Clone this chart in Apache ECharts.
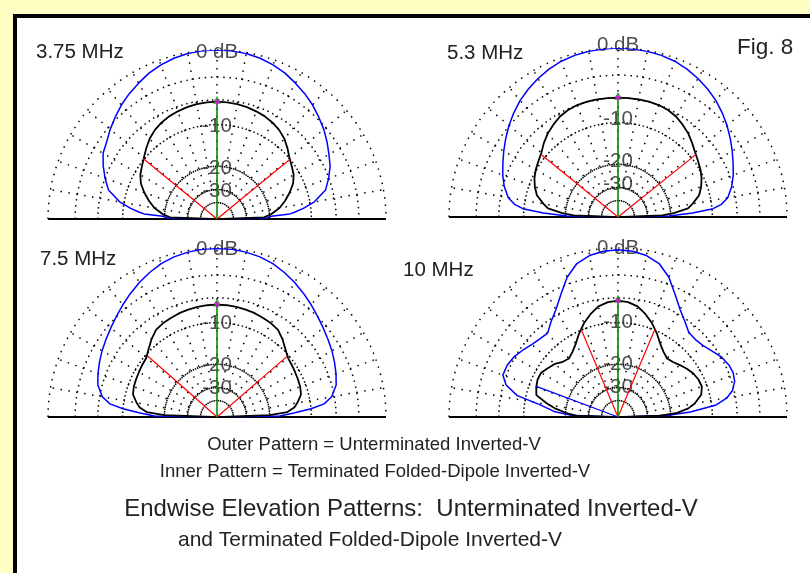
<!DOCTYPE html>
<html><head><meta charset="utf-8">
<script src="https://cdn.jsdelivr.net/npm/echarts@6/dist/echarts.min.js"></script>
<style>html,body{margin:0;padding:0;background:#ffffc4}#c{width:810px;height:573px}</style>
</head><body><div id="c"></div>
<script>
// ---------------- data (elevation angle in degrees, gain in dB) ----------------
const plotTitles = ['3.75 MHz', '5.3 MHz', '7.5 MHz', '10 MHz'];
const ringDb = [0, -3, -6, -10, -20, -30, -40];
const ringLabelDb = [0, -10, -20, -30];
const ringLabels = ['0 dB', '-10', '-20', '-30'];
const spokeAngles = [0,10,20,30,40,50,60,70,80,90,100,110,120,130,140,150,160,170,180];

const p1Outer = [[0,-60],[1,-21.2],[3,-19.5],[4,-14.4],[5,-13.3],[7,-11.4],[10,-9.2],[15,-7.0],[20,-6.05],[25,-5.2],[30,-4.6],[35,-3.94],[40,-3.3],[45,-2.75],[50,-2.19],[55,-1.71],[60,-1.28],[65,-0.84],[70,-0.52],[75,-0.26],[80,-0.09],[85,0],[90,0],[95,0],[100,-0.09],[105,-0.26],[110,-0.52],[115,-0.84],[120,-1.28],[125,-1.71],[130,-2.19],[135,-2.75],[140,-3.3],[145,-3.9],[150,-4.3],[155,-5.1],[160,-6.0],[165,-7.0],[170,-9.2],[173,-11.4],[175,-13.3],[176,-14.4],[177,-19.5],[179,-21.2],[180,-60]];
const p1Inner = [[0,-60],[2,-22],[5,-19.5],[10,-16.8],[15,-15.0],[20,-13.4],[25,-12.0],[30,-11.1],[35,-10.55],[40,-9.95],[45,-9.05],[50,-8.2],[55,-7.6],[60,-7.18],[65,-6.87],[70,-6.67],[75,-6.49],[80,-6.37],[85,-6.29],[90,-6.27],[95,-6.29],[100,-6.37],[105,-6.49],[110,-6.67],[115,-6.87],[120,-7.18],[125,-7.6],[130,-8.2],[135,-9.0],[140,-9.8],[145,-10.5],[150,-11.1],[155,-12.0],[160,-13.4],[165,-15.0],[170,-16.8],[175,-19.5],[178,-22],[180,-60]];
const p1Beam = [[39.3,-10.0],[140.7,-9.8]];

const p2Outer = [[0,-60],[1,-20.5],[3,-14.0],[5,-9.8],[7,-8.3],[10,-7.15],[15,-6.2],[20,-5.5],[25,-4.9],[30,-4.25],[35,-3.6],[40,-2.95],[45,-2.35],[50,-1.8],[55,-1.35],[60,-0.95],[65,-0.6],[70,-0.33],[75,-0.17],[80,-0.08],[85,-0.03],[90,0],[95,-0.03],[100,-0.08],[105,-0.17],[110,-0.33],[115,-0.6],[120,-0.95],[125,-1.35],[130,-1.8],[135,-2.35],[140,-2.95],[145,-3.6],[150,-4.25],[155,-4.9],[160,-5.5],[165,-6.2],[170,-7.15],[173,-8.3],[175,-9.8],[177,-14.0],[179,-20.5],[180,-60]];
const p2Inner = [[0,-60],[2,-23],[4,-19],[7,-15.0],[10,-13.8],[15,-12.0],[20,-11.1],[25,-10.4],[30,-9.85],[35,-9.4],[40,-8.9],[45,-8.2],[50,-7.5],[55,-6.95],[60,-6.45],[65,-6.15],[70,-6.0],[75,-5.97],[80,-5.97],[85,-5.97],[90,-5.97],[95,-5.97],[100,-5.97],[105,-5.97],[110,-6.0],[115,-6.15],[120,-6.45],[125,-6.95],[130,-7.5],[135,-8.2],[140,-9.0],[145,-9.5],[150,-9.9],[155,-10.4],[160,-11.1],[165,-12.0],[170,-13.8],[173,-15.0],[176,-19],[178,-23],[180,-60]];
const p2Beam = [[38.7,-9.05],[140.9,-9.3]];

const p3Outer = [[0,-60],[1,-17],[3,-13.5],[5,-10.0],[7,-7.7],[10,-6.4],[15,-5.4],[20,-4.95],[25,-4.55],[30,-4.15],[35,-3.8],[40,-3.4],[45,-2.95],[50,-2.45],[55,-1.95],[60,-1.45],[65,-1.0],[70,-0.6],[75,-0.33],[80,-0.16],[85,-0.07],[90,-0.05],[95,-0.07],[100,-0.16],[105,-0.33],[110,-0.6],[115,-1.0],[120,-1.45],[125,-1.95],[130,-2.45],[135,-2.95],[140,-3.4],[145,-3.8],[150,-4.15],[155,-4.55],[160,-4.95],[165,-5.4],[170,-6.4],[173,-7.7],[175,-10.0],[177,-13.5],[179,-17],[180,-60]];
const p3Inner = [[0,-60],[2,-20],[4,-15],[7,-13.3],[10,-12.5],[15,-11.4],[20,-11.1],[25,-10.95],[30,-10.8],[35,-10.6],[40,-10.35],[45,-9.6],[50,-8.7],[55,-7.95],[60,-7.65],[65,-7.5],[70,-7.3],[75,-7.2],[80,-7.1],[85,-7.03],[90,-7.0],[95,-7.03],[100,-7.1],[105,-7.2],[110,-7.3],[115,-7.5],[120,-7.65],[125,-7.95],[130,-8.7],[135,-9.6],[140,-10.4],[145,-10.6],[150,-10.8],[155,-10.95],[160,-11.1],[165,-11.4],[170,-12.5],[173,-13.3],[176,-15],[178,-20],[180,-60]];
const p3Beam = [[40.9,-10.32],[138.7,-10.44]];

const p4Outer = [[0,-60],[2,-20.7],[4,-14.5],[7,-9.2],[10,-7.26],[13,-6.24],[17,-5.59],[21,-5.4],[25,-5.52],[30,-5.92],[35,-6.62],[40,-7.19],[45,-7.45],[50,-7.34],[55,-6.37],[60,-5.29],[65,-3.83],[70,-2.19],[75,-1.06],[80,-0.52],[85,-0.26],[90,-0.17],[95,-0.26],[100,-0.52],[105,-1.06],[110,-2.19],[115,-3.83],[120,-5.29],[125,-6.37],[130,-7.45],[135,-7.3],[140,-6.95],[145,-6.4],[150,-5.85],[155,-5.55],[160,-5.52],[164,-6.4],[168,-8.5],[171,-13.0],[175,-16.6],[178,-22],[180,-60]];
const p4Inner = [[0,-60],[2,-23.8],[4,-18.0],[7,-14.9],[10,-13.3],[15,-11.56],[20,-10.96],[25,-11.06],[30,-11.39],[35,-12.0],[40,-12.67],[45,-13.33],[50,-13.63],[55,-12.96],[60,-11.9],[65,-10.42],[70,-9.06],[75,-7.93],[80,-7.0],[85,-6.56],[90,-6.41],[95,-6.56],[100,-7.0],[105,-7.93],[110,-9.06],[115,-10.42],[120,-11.9],[125,-12.96],[130,-13.63],[135,-13.26],[140,-12.3],[145,-11.73],[150,-11.06],[155,-11.06],[160,-11.39],[165,-11.9],[169,-14.4],[172,-16.6],[176,-20.7],[178,-23.8],[180,-60]];
const p4Beam = [[67.2,-9.95],[112.8,-9.95]];
const p4Cursor = [[159.4,-11.35]];

const outerSets = [p1Outer, p2Outer, p3Outer, p4Outer];
const innerSets = [p1Inner, p2Inner, p3Inner, p4Inner];
const beamSets = [p1Beam, p2Beam, p3Beam, p4Beam];
const cursorSets = [[], [], [], p4Cursor];

const footerLines = [
  'Outer Pattern = Unterminated Inverted-V',
  'Inner Pattern = Terminated Folded-Dipole Inverted-V',
  'Endwise Elevation Patterns:  Unterminated Inverted-V',
  'and Terminated Folded-Dipole Inverted-V'
];
const figLabel = 'Fig. 8';

// ---------------- helpers ----------------
// ARRL log scale: 2 dB per factor 0.89
const arrl = dB => Math.pow(0.89, -dB / 2);
const toPolar = pts => pts.map(p => [arrl(p[1]), p[0]]);
const FONT = '"Liberation Sans", Arial, sans-serif';

const centers = [[217, 219], [618, 217], [217, 417], [618, 417]];
const labelShift = [2, -3, 1, 0];
const R = 169;

const polar = [], angleAxis = [], radiusAxis = [], series = [];
for (let i = 0; i < 4; i++) {
  polar.push({ center: centers[i], radius: R });
  angleAxis.push({ polarIndex: i, type: 'value', min: 0, max: 360, startAngle: 0, clockwise: false, show: false });
  radiusAxis.push({ polarIndex: i, type: 'value', min: 0, max: 1, show: false });

  // rings (dots every 2.5 deg)
  series.push({
    type: 'custom', coordinateSystem: 'polar', polarIndex: i, silent: true, z: 1,
    data: ringDb.map(d => [arrl(d), 90]),
    renderItem: (params, api) => {
      const c = api.coord([0, 0]);
      const p = api.coord([api.value(0), 90]);
      const rr = c[1] - p[1];
      const per = rr * Math.PI / 72;
      return { type: 'arc', shape: { cx: c[0], cy: c[1], r: rr, startAngle: Math.PI, endAngle: 2 * Math.PI, clockwise: true },
        style: { stroke: '#000', fill: null, lineWidth: 1.5, lineDash: [1.5, Math.max(0.7, per - 1.5)] } };
    }
  });
  // spokes
  series.push({
    type: 'custom', coordinateSystem: 'polar', polarIndex: i, silent: true, z: 1,
    data: spokeAngles.filter(a => a > 0 && a < 180).map(a => [1, a]),
    renderItem: (params, api) => {
      const a = api.value(1);
      const c = api.coord([arrl(-30), a]);
      const p = api.coord([1, a]);
      return { type: 'line', shape: { x1: c[0], y1: c[1], x2: p[0], y2: p[1] },
        style: { stroke: '#000', lineWidth: 1.5, lineDash: [1.5, 6.5] } };
    }
  });
  // baseline
  series.push({ type: 'line', coordinateSystem: 'polar', polarIndex: i, z: 2, symbol: 'none', silent: true,
    data: [[1, 0], [1, 180]], lineStyle: { color: '#000', width: 2 } });
  // dB labels
  series.push({ type: 'scatter', coordinateSystem: 'polar', polarIndex: i, z: 3, symbolSize: 0, silent: true,
    data: ringLabelDb.map(d => [arrl(d), 90]),
    label: { show: true, position: 'inside', offset: [0, labelShift[i]], formatter: p => ringLabels[p.dataIndex], color: '#222', fontSize: 20.5, fontFamily: FONT } });
  // outer pattern
  series.push({ type: 'line', coordinateSystem: 'polar', polarIndex: i, z: 5, symbol: 'none', silent: true,
    data: toPolar(outerSets[i]), lineStyle: { color: '#0000ff', width: 1.5 } });
  // inner pattern
  series.push({ type: 'line', coordinateSystem: 'polar', polarIndex: i, z: 5, symbol: 'none', silent: true,
    data: toPolar(innerSets[i]), lineStyle: { color: '#000', width: 1.8 } });
  // beamwidth lines
  const b = toPolar(beamSets[i]);
  series.push({ type: 'line', coordinateSystem: 'polar', polarIndex: i, z: 6, symbol: 'none', silent: true,
    data: [b[0], [0, 0], b[1]], lineStyle: { color: '#ff0000', width: 1.2 } });
  // max direction line
  const inner90 = innerSets[i].find(p => p[0] === 90);
  const rmax = arrl(inner90[1]);
  series.push({ type: 'line', coordinateSystem: 'polar', polarIndex: i, z: 6, symbol: 'none', silent: true,
    data: [[0, 90], [rmax, 90]], lineStyle: { color: '#008c00', width: 1.6 } });
  series.push({ type: 'scatter', coordinateSystem: 'polar', polarIndex: i, z: 7, silent: true,
    data: [[rmax, 90]], symbol: 'triangle', symbolSize: 8, symbolOffset: [0, -2], itemStyle: { color: '#008c00' } });
  series.push({ type: 'scatter', coordinateSystem: 'polar', polarIndex: i, z: 8, silent: true,
    data: [[rmax, 90]], symbol: 'triangle', symbolRotate: 180, symbolSize: 6, symbolOffset: [0, 1], itemStyle: { color: '#ff00ff' } });
  // cursor line
  if (cursorSets[i].length) {
    const cpt = toPolar(cursorSets[i]);
    series.push({ type: 'line', coordinateSystem: 'polar', polarIndex: i, z: 6, symbol: 'none', silent: true,
      data: [[0, 0], cpt[0]], lineStyle: { color: '#0000ff', width: 1.3 } });
  }
}

const txt = (text, x, y, size, align) => ({ type: 'text', z: 10, silent: true,
  style: { text, x, y, fill: '#222', font: size + 'px ' + FONT, textAlign: align || 'left', textVerticalAlign: 'middle' } });

const option = {
  animation: false,
  backgroundColor: '#ffffc4',
  polar, angleAxis, radiusAxis, series,
  graphic: [
    { type: 'rect', z: -10, silent: true, shape: { x: 15, y: 16, width: 820, height: 600 }, style: { fill: '#fff', stroke: '#000', lineWidth: 4 } },
    txt(plotTitles[0], 36, 52, 20.5),
    txt(plotTitles[1], 447, 53, 20.5),
    txt(plotTitles[2], 40, 259, 20.5),
    txt(plotTitles[3], 403, 270, 20.5),
    txt(figLabel, 737, 48, 22.5),
    txt(footerLines[0], 374, 445, 18.5, 'center'),
    txt(footerLines[1], 375, 472, 18.5, 'center'),
    txt(footerLines[2], 411, 509, 24, 'center'),
    txt(footerLines[3], 370, 540, 21, 'center')
  ]
};
const chart = echarts.init(document.getElementById('c'), null, { renderer: 'canvas' });
chart.setOption(option);
</script></body></html>
